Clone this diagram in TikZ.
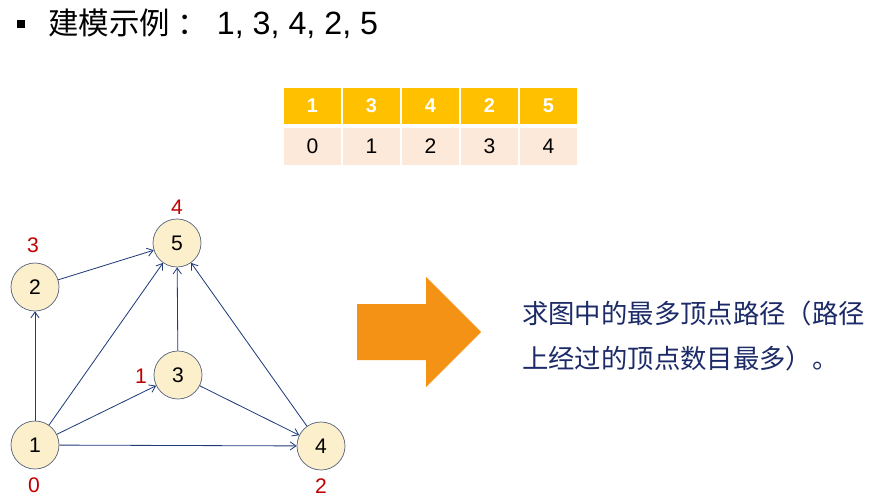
\documentclass[tikz,border=0pt]{standalone}
\usepackage{fontspec}
\setmainfont{Liberation Sans}
\newfontfamily\cjkfont{Noto Sans CJK SC}
\usepackage{xcolor}
\usetikzlibrary{arrows.meta,positioning}
\definecolor{edgeblue}{HTML}{1F3B7A}
\definecolor{vline}{HTML}{56627E}
\definecolor{vfill}{HTML}{FCEFCB}
\definecolor{ordred}{HTML}{C00000}
\definecolor{headfill}{HTML}{FFC000}
\definecolor{bodyfill}{HTML}{FDE9D9}
\definecolor{bigarrow}{HTML}{F39214}
\definecolor{noteblue}{HTML}{1C2B68}

\begin{document}
\begin{tikzpicture}[x=0.03cm,y=-0.03cm,every node/.style={font=\fontsize{18}{21}\selectfont},
  vertex/.style={circle,draw=vline,line width=0.6pt,fill=vfill,minimum size=1.44cm,inner sep=0pt},
  order/.style={text=ordred},
  edge/.style={draw=edgeblue,line width=0.7pt,-{Straight Barb[length=5pt,width=7pt]}},
  headcell/.style={fill=headfill,text=white,minimum width=1.725cm,minimum height=1.08cm,inner sep=0pt,font=\fontsize{17}{20}\bfseries\selectfont},
  bodycell/.style={fill=bodyfill,minimum width=1.725cm,minimum height=1.11cm,inner sep=0pt,font=\fontsize{18}{21}\selectfont}]
  \useasboundingbox (0,0) rectangle (888,501);
  \fill[white] (0,0) rectangle (888,501);
  \node[fill=black,minimum size=0.24cm,inner sep=0pt] (bullet) at (21,24) {};
  \node[anchor=west,inner sep=0pt] (title) at (48,24)
    {{\cjkfont\fontsize{26}{31}\selectfont 建模示例\hspace{6pt}：}\hspace{8pt}{\fontsize{27.5}{32}\selectfont 1, 3, 4, 2, 5}};
  \foreach \v [count=\i] in {1,3,4,2,5} \node[headcell] (h\i) at (253.5+59*\i,106) {\v};
  \foreach \v [count=\i] in {0,1,2,3,4} \node[bodycell] (b\i) at (253.5+59*\i,146.5) {\v};
  \foreach \n/\x/\y in {1/35/445,2/35/287,3/178/375,4/321/446,5/177/243}
    \node[vertex] (v\n) at (\x,\y) {\n};
  \foreach \n/\x/\y/\k in {1/34/485/0,2/33/245/3,3/141/376/1,4/321/486/2,5/177/207/4}
    \node[order] (o\n) at (\x,\y) {\k};
  \foreach \a/\b in {1/2,1/5,1/3,1/4,2/5,3/5,3/4,4/5} \draw[edge] (v\a) -- (v\b);
  \fill[bigarrow] (357,304) -- (426,304) -- (426,277) -- (481,332) -- (426,387) -- (426,360) -- (357,360) -- cycle;
  \node[anchor=west,inner sep=0pt,text=noteblue,font=\cjkfont\fontsize{22.5}{27}\selectfont] (line1) at (522,313) {求图中的最多顶点路径（路径};
  \node[anchor=west,inner sep=0pt,text=noteblue,font=\cjkfont\fontsize{22.5}{27}\selectfont] (line2) at (522,358) {上经过的顶点数目最多）。};
\end{tikzpicture}
\end{document}
